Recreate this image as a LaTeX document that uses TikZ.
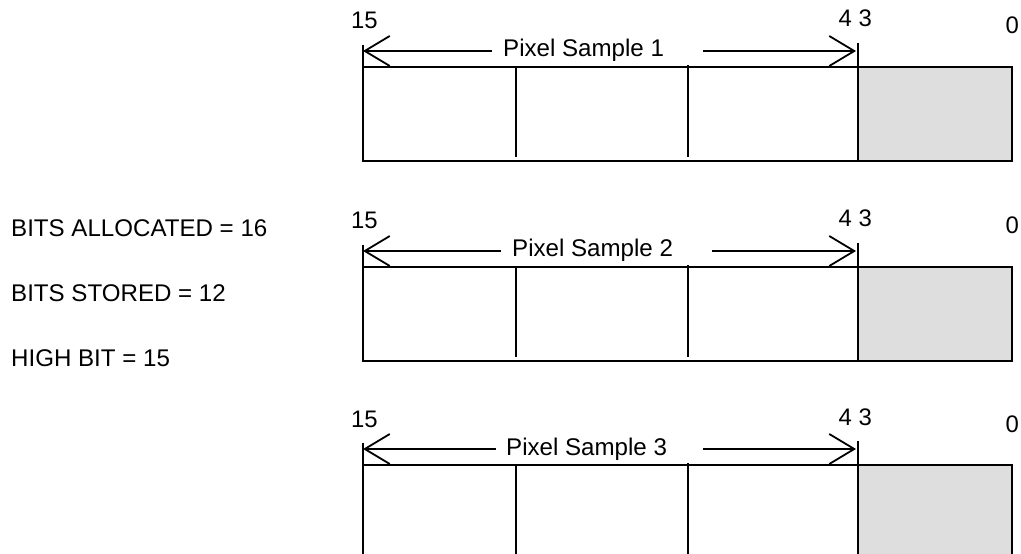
\documentclass[tikz,border=0pt]{standalone}
\usepackage{fontspec}
\setmainfont{Liberation Sans}
\usetikzlibrary{arrows.meta,calc}
\definecolor{cellgray}{HTML}{DEDEDE}
\begin{document}
\begin{tikzpicture}[x=1bp,y=-1bp,
  boxline/.style={line width=2bp},
  divline/.style={line width=1.8bp},
  dimline/.style={line width=1.8bp,-{Straight Barb[length=25bp,width=30bp]}},
  lbl/.style={inner sep=0pt, anchor=base west, font=\fontsize{24}{29}\selectfont},
  txt/.style={inner sep=0pt, anchor=base west, font=\fontsize{24.2}{29}\selectfont},
]
\useasboundingbox (0,0) rectangle (1021,554);
\clip (0,0) rectangle (1021,554);

\node[txt] (ba) at (11,237) {BITS ALLOCATED = 16};
\node[txt] (bs) at (11,302) {BITS STORED = 12};
\node[txt] (hb) at (11,367) {HIGH BIT = 15};

\foreach \n/\off/\tX/\gapl/\gapr in {1/0/503/11/39, 2/200/512/11/39, 3/398/506/10/36} {
  \fill[cellgray] (858,{67+\off}) rectangle (1012,{161+\off});
  \draw[boxline] (363,{45+\off}) -- (363,{161+\off}) -- (1012,{161+\off}) -- (1012,{67+\off}) -- (363,{67+\off});
  \draw[divline] (516,{67+\off}) -- (516,{157+\off});
  \draw[divline] (688,{65+\off}) -- (688,{157+\off});
  \draw[boxline] (858,{43+\off}) -- (858,{161+\off});
  \coordinate (al\n) at (363,{51+\off});
  \coordinate (ar\n) at (856,{51+\off});
  \node[txt] (ps\n) at (\tX,{57+\off}) {Pixel Sample \n};
  \draw[dimline] ($(al\n -| ps\n.west)+(-\gapl,0)$) -- (al\n);
  \draw[dimline] ($(al\n -| ps\n.east)+(\gapr,0)$) -- (ar\n);
  \node[lbl] (h\n) at (351,{29+\off}) {15};
  \node[lbl] (m\n) at (838.5,{27+\off}) {4 3};
  \node[lbl] (z\n) at (1005.5,{34+\off}) {0};
}
\end{tikzpicture}
\end{document}
